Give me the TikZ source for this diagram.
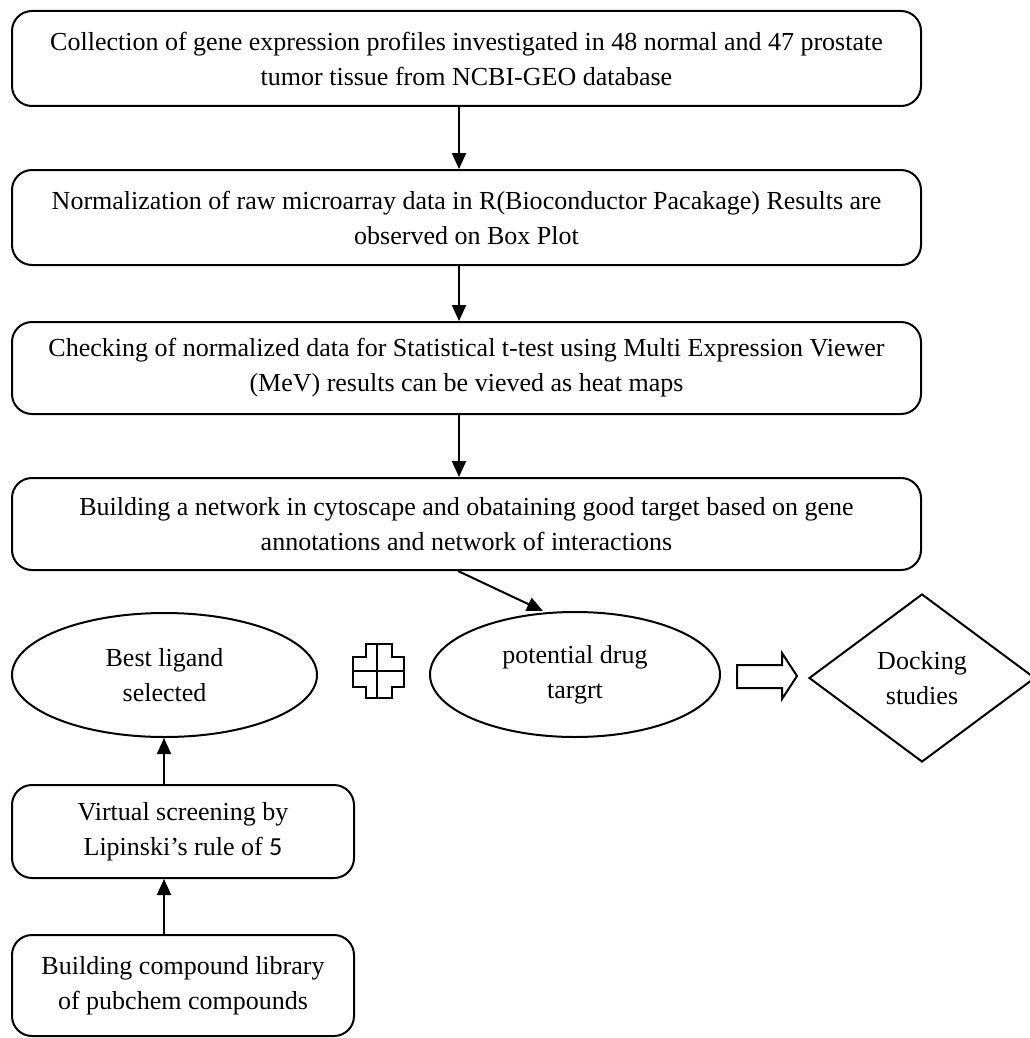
\documentclass[tikz,border=0pt]{standalone}
\usepackage{fontspec}
\setmainfont{Liberation Serif}
\newfontfamily\carlito{Carlito}
\usetikzlibrary{shapes.geometric,arrows.meta}
\begin{document}
\begin{tikzpicture}[x=1pt,y=-1pt,
  txt/.style={font=\fontsize{26}{35}\selectfont, align=center},
  box/.style={txt, draw, line width=2pt, rounded corners=20pt, inner sep=0pt},
  wide/.style={box, minimum width=909pt},
  narrow/.style={box, minimum width=342pt},
  oval/.style={txt, draw, line width=2pt, ellipse, inner sep=0pt},
  arr/.style={line width=2pt, -{Triangle[length=16pt,width=14pt]}},
  shapeline/.style={line width=2pt, line join=miter}
]
\useasboundingbox (0,0) rectangle (1029,1038);
\node[wide, minimum height=95pt] (b1) at (466.5,58.5) {Collection of gene expression profiles investigated in 48 normal and 47 prostate\\tumor tissue from NCBI-GEO database};
\node[wide, minimum height=95pt] (b2) at (466.5,217.5) {Normalization of raw microarray data in R(Bioconductor Pacakage) Results are\\observed on Box Plot};
\node[wide, minimum height=92pt] (b3) at (466.5,368) {Checking of normalized data for Statistical t-test using Multi Expression Viewer\\(MeV) results can be vieved as heat maps};
\node[wide, minimum height=92pt] (b4) at (466.5,524) {Building a network in cytoscape and obataining good target based on gene\\annotations and network of interactions};
\node[oval, minimum width=305pt, minimum height=124pt] (e1) at (164.5,675) {Best ligand\\selected};
\node[oval, minimum width=290pt, minimum height=125pt] (e2) at (575,674.5) {potential drug\\targrt};
\node[txt, draw, diamond, line width=2pt, inner sep=0pt, minimum width=226pt, minimum height=168pt] (d) at (922,678) {Docking\\studies};
\node[narrow, minimum height=93pt] (b5) at (183,831.5) {Virtual screening by\\Lipinski’s rule of {\carlito 5}};
\node[narrow, minimum height=101pt] (b6) at (183,985.5) {Building compound library\\of pubchem compounds};
% connectors
\draw[arr] ([xshift=-7.5pt]b1.south) -- ([xshift=-7.5pt]b2.north);
\draw[arr] ([xshift=-7.5pt]b2.south) -- ([xshift=-7.5pt]b3.north);
\draw[arr] ([xshift=-7.5pt]b3.south) -- ([xshift=-7.5pt]b4.north);
\draw[arr] ([xshift=-8.5pt]b4.south) -- ([xshift=-32pt]e2.north);
\draw[arr] ([xshift=-19pt]b5.north) -- ([xshift=-0.5pt]e1.south);
\draw[arr] ([xshift=-19pt]b6.north) -- ([xshift=-19pt]b5.south);
% plus sign
\draw[shapeline] (366,644) -- (392,644) -- (392,657) -- (404,657) -- (404,687) -- (392,687) -- (392,698) -- (366,698) -- (366,687) -- (353,687) -- (353,657) -- (366,657) -- cycle;
\draw[line width=1.5pt] (377,644) -- (377,698);
\draw[line width=1.5pt] (353,671) -- (404,671);
% hollow arrow
\draw[shapeline] (737,665) -- (782,665) -- (782,653) -- (797,676) -- (782,699) -- (782,688) -- (737,688) -- cycle;
\end{tikzpicture}
\end{document}
